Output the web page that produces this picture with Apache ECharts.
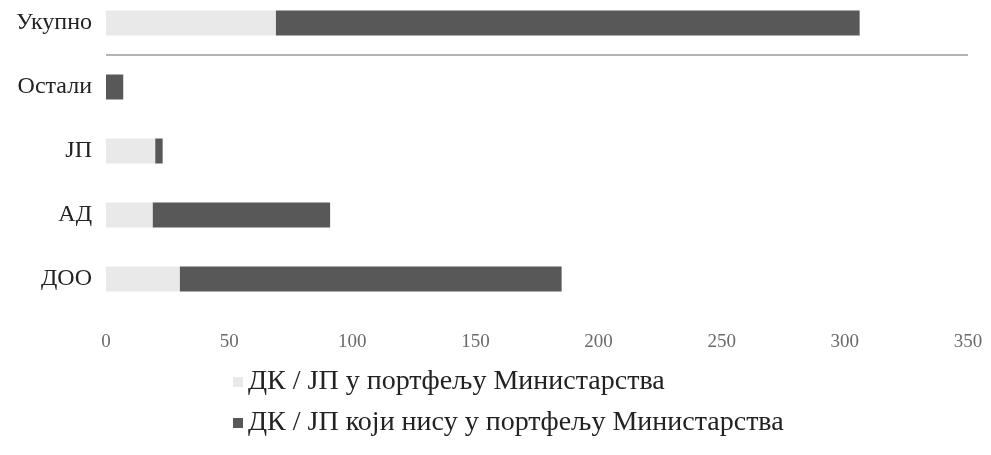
<!DOCTYPE html>
<html><head><meta charset="utf-8">
<script src="https://cdn.jsdelivr.net/npm/echarts@6/dist/echarts.min.js"></script>
<style>html,body{margin:0;padding:0;background:#fff;overflow:hidden}#c{width:991px;height:464px;margin-top:-9px}</style>
</head><body><div id="c"></div>
<script>
const categories = ['ДОО', 'АД', 'ЈП', 'Остали', 'Укупно'];
const inPortfolio = [30, 19, 20, 0, 69];
const notInPortfolio = [155, 72, 3, 7, 237];
const seriesNames = ['ДК / ЈП у портфељу Министарства', 'ДК / ЈП који нису у портфељу Министарства'];
const xTicks = { min: 0, max: 350, interval: 50 };

const font = '"Liberation Serif", "DejaVu Serif", serif';
const none = 'rgba(0,0,0,0)';
const chart = echarts.init(document.getElementById('c'));
chart.setOption({
  animation: false,
  textStyle: { fontFamily: font },
  grid: { left: 106, right: 23, top: 0, height: 320 },
  xAxis: {
    type: 'value', min: xTicks.min, max: xTicks.max, interval: xTicks.interval,
    axisLine: { show: false }, axisTick: { show: false }, splitLine: { show: false },
    axisLabel: { fontFamily: font, fontSize: 19, color: '#6a6a6a', margin: 22 }
  },
  yAxis: {
    type: 'category', data: categories,
    axisLine: { show: false }, axisTick: { show: false },
    axisLabel: { fontFamily: font, fontSize: 24, color: '#222', margin: 14 },
    splitLine: { show: true,
      lineStyle: { width: 1.5, color: [none, none, none, none, '#9a9a9a', none] } }
  },
  legend: {
    orient: 'vertical', left: 228, top: 372, itemWidth: 10, itemHeight: 10, itemGap: 13,
    icon: 'rect',
    textStyle: { fontFamily: font, fontSize: 28, color: '#222' },
    data: seriesNames
  },
  series: [
    { name: seriesNames[0], type: 'bar', stack: 't', barWidth: 25, data: inPortfolio, itemStyle: { color: '#e9e9e9' } },
    { name: seriesNames[1], type: 'bar', stack: 't', barWidth: 25, data: notInPortfolio, itemStyle: { color: '#585858' } }
  ]
});
</script></body></html>
